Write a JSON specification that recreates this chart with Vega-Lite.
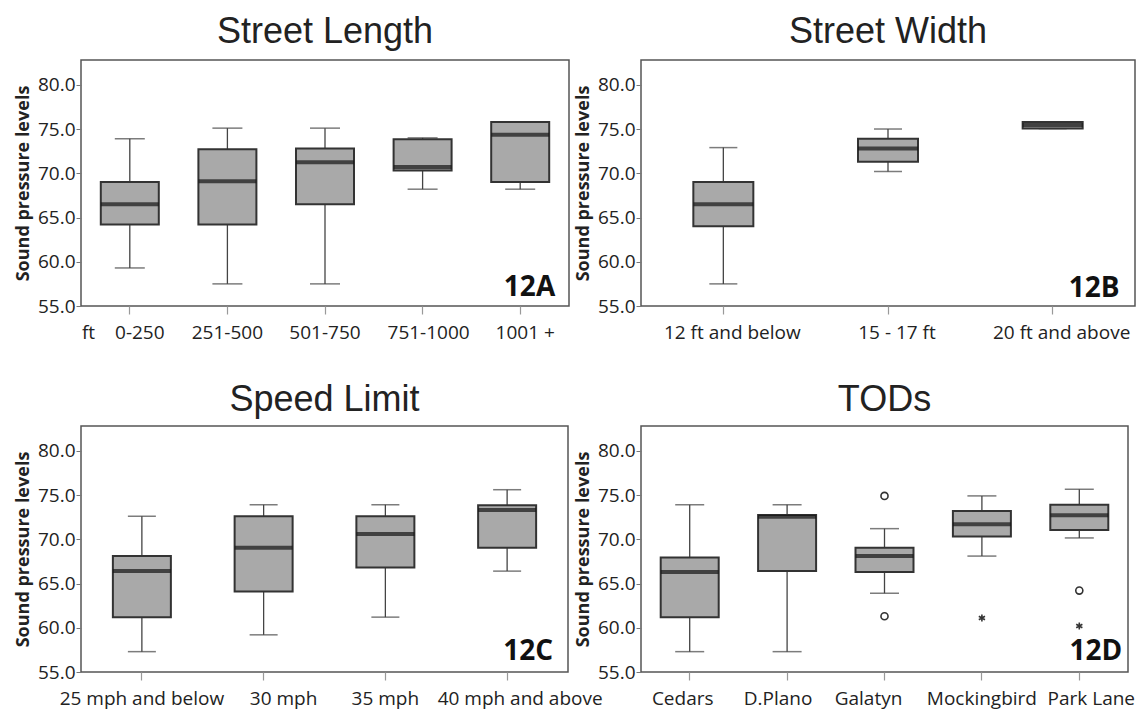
{
  "$schema": "https://vega.github.io/schema/vega-lite/v6.json",
  "autosize": {"type": "pad"},
  "padding": {"left": 13, "top": 13, "right": 0, "bottom": 2},
  "background": "white",
  "config": {
    "font": "Open Sans",
    "view": {"stroke": "#555", "strokeWidth": 1.5},
    "axis": {"grid": false, "domain": false},
    "axisX": {"labelAngle": 0, "tickSize": 8, "labelPadding": 9, "labelFontSize": 19, "labelColor": "#222", "tickColor": "#999", "tickWidth": 1.2},
    "axisY": {"values": [55, 60, 65, 70, 75, 80], "format": ".1f", "tickSize": 5, "labelPadding": 1, "labelFontSize": 19, "labelColor": "#222", "tickColor": "#777", "titleFontSize": 18, "titleFontWeight": "bold", "titleColor": "#222", "titlePadding": 5},
    "title": {"font": "Liberation Sans", "fontSize": 36, "fontWeight": "normal", "color": "#222", "baseline": "alphabetic", "offset": 9, "frame": "group"}
  },
  "datasets": {
    "A": [
      {"cat": "0-250", "lo": 59.3, "q1": 64.2, "med": 66.5, "q3": 69.0, "hi": 73.9},
      {"cat": "251-500", "lo": 57.5, "q1": 64.2, "med": 69.1, "q3": 72.7, "hi": 75.1},
      {"cat": "501-750", "lo": 57.5, "q1": 66.5, "med": 71.25, "q3": 72.8, "hi": 75.1},
      {"cat": "751-1000", "lo": 68.2, "q1": 70.3, "med": 70.7, "q3": 73.85, "hi": 74.0},
      {"cat": "1001 +", "lo": 68.2, "q1": 69.0, "med": 74.35, "q3": 75.8, "hi": 75.8}
    ],
    "B": [
      {"cat": "12 ft and below", "lo": 57.5, "q1": 64.0, "med": 66.5, "q3": 69.0, "hi": 72.9},
      {"cat": "15 - 17 ft", "lo": 70.2, "q1": 71.3, "med": 72.8, "q3": 73.9, "hi": 75.0},
      {"cat": "20 ft and above", "lo": 75.05, "q1": 75.05, "med": 75.45, "q3": 75.8, "hi": 75.8}
    ],
    "C": [
      {"cat": "25 mph and below", "lo": 57.3, "q1": 61.2, "med": 66.4, "q3": 68.1, "hi": 72.6},
      {"cat": "30 mph", "lo": 59.2, "q1": 64.1, "med": 69.05, "q3": 72.6, "hi": 73.9},
      {"cat": "35 mph", "lo": 61.2, "q1": 66.8, "med": 70.6, "q3": 72.6, "hi": 73.9},
      {"cat": "40 mph and above", "lo": 66.4, "q1": 69.05, "med": 73.3, "q3": 73.85, "hi": 75.6}
    ],
    "D": [
      {"cat": "Cedars", "lo": 57.3, "q1": 61.2, "med": 66.3, "q3": 67.95, "hi": 73.9},
      {"cat": "D.Plano", "lo": 57.3, "q1": 66.4, "med": 72.55, "q3": 72.75, "hi": 73.9},
      {"cat": "Galatyn", "lo": 63.9, "q1": 66.3, "med": 68.1, "q3": 69.05, "hi": 71.2},
      {"cat": "Mockingbird", "lo": 68.1, "q1": 70.3, "med": 71.7, "q3": 73.2, "hi": 74.9},
      {"cat": "Park Lane", "lo": 70.15, "q1": 71.05, "med": 72.7, "q3": 73.9, "hi": 75.65}
    ],
    "Dout": [
      {"cat": "Galatyn", "v": 74.9, "kind": "outlier"},
      {"cat": "Galatyn", "v": 61.3, "kind": "outlier"},
      {"cat": "Mockingbird", "v": 61.1, "kind": "extreme"},
      {"cat": "Park Lane", "v": 64.2, "kind": "outlier"},
      {"cat": "Park Lane", "v": 60.2, "kind": "extreme"}
    ]
  },
  "concat": [
    {
      "width": 488, "height": 246,
      "title": {"text": "Street Length"},
      "data": {"name": "A"},
      "layer": [
        {"mark": {"type": "rule", "color": "#444", "strokeWidth": 1.3},
         "encoding": {
           "x": {"field": "cat", "type": "nominal", "sort": null, "scale": {"type": "band", "paddingInner": 0, "paddingOuter": 0},
             "axis": {"title": "ft", "titleX": 7, "titleY": 32, "titleAlign": "center", "titleBaseline": "alphabetic", "titleFontSize": 19, "titleFontWeight": "normal", "titleColor": "#222",
               "labelOffset": {"condition": [{"test": "datum.value == '0-250'", "value": 10}, {"test": "datum.value == '751-1000'", "value": 6}, {"test": "datum.value == '1001 +'", "value": 5}], "value": 0}}},
           "y": {"field": "lo", "type": "quantitative", "title": "Sound pressure levels", "scale": {"domain": [55, 82.8], "nice": false, "zero": false}},
           "y2": {"field": "hi"}}},
        {"mark": {"type": "tick", "color": "#444", "size": 30, "thickness": 1.5},
         "encoding": {"x": {"field": "cat", "type": "nominal", "sort": null}, "y": {"field": "hi", "type": "quantitative", "title": "Sound pressure levels"}}},
        {"mark": {"type": "tick", "color": "#444", "size": 30, "thickness": 1.5},
         "encoding": {"x": {"field": "cat", "type": "nominal", "sort": null}, "y": {"field": "lo", "type": "quantitative", "title": "Sound pressure levels"}}},
        {"mark": {"type": "bar", "width": 58, "fill": "#a9a9a9", "stroke": "#333", "strokeWidth": 2},
         "encoding": {"x": {"field": "cat", "type": "nominal", "sort": null}, "y": {"field": "q1", "type": "quantitative", "title": "Sound pressure levels"}, "y2": {"field": "q3"}}},
        {"mark": {"type": "tick", "color": "#151515", "size": 58, "thickness": 4},
         "encoding": {"x": {"field": "cat", "type": "nominal", "sort": null}, "y": {"field": "med", "type": "quantitative", "title": "Sound pressure levels"}}},
        {"data": {"values": [{"tag": "12A"}]},
         "mark": {"type": "text", "fontSize": 28, "fontWeight": "bold", "color": "#111", "align": "right", "baseline": "alphabetic", "dx": 35, "dy": -10},
         "encoding": {"x": {"datum": "1001 +", "type": "nominal"}, "y": {"datum": 55, "type": "quantitative"}, "text": {"field": "tag"}}}
      ]
    },
    {
      "width": 494, "height": 246,
      "title": {"text": "Street Width"},
      "data": {"name": "B"},
      "layer": [
        {"mark": {"type": "rule", "color": "#444", "strokeWidth": 1.3},
         "encoding": {
           "x": {"field": "cat", "type": "nominal", "sort": null, "title": null, "scale": {"type": "band", "paddingInner": 0, "paddingOuter": 0},
             "axis": {"labelOffset": 9}},
           "y": {"field": "lo", "type": "quantitative", "title": "Sound pressure levels", "scale": {"domain": [55, 82.8], "nice": false, "zero": false}},
           "y2": {"field": "hi"}}},
        {"mark": {"type": "tick", "color": "#444", "size": 28, "thickness": 1.5},
         "encoding": {"x": {"field": "cat", "type": "nominal", "sort": null, "title": null}, "y": {"field": "hi", "type": "quantitative", "title": "Sound pressure levels"}}},
        {"mark": {"type": "tick", "color": "#444", "size": 28, "thickness": 1.5},
         "encoding": {"x": {"field": "cat", "type": "nominal", "sort": null, "title": null}, "y": {"field": "lo", "type": "quantitative", "title": "Sound pressure levels"}}},
        {"mark": {"type": "bar", "width": 60, "fill": "#a9a9a9", "stroke": "#333", "strokeWidth": 2},
         "encoding": {"x": {"field": "cat", "type": "nominal", "sort": null, "title": null}, "y": {"field": "q1", "type": "quantitative", "title": "Sound pressure levels"}, "y2": {"field": "q3"}}},
        {"mark": {"type": "tick", "color": "#151515", "size": 60, "thickness": 4},
         "encoding": {"x": {"field": "cat", "type": "nominal", "sort": null, "title": null}, "y": {"field": "med", "type": "quantitative", "title": "Sound pressure levels"}}},
        {"data": {"values": [{"tag": "12B"}]},
         "mark": {"type": "text", "fontSize": 28, "fontWeight": "bold", "color": "#111", "align": "right", "baseline": "alphabetic", "dx": 67, "dy": -9},
         "encoding": {"x": {"datum": "20 ft and above", "type": "nominal"}, "y": {"datum": 55, "type": "quantitative"}, "text": {"field": "tag"}}}
      ]
    },
    {
      "width": 487, "height": 246,
      "title": {"text": "Speed Limit", "offset": 7},
      "data": {"name": "C"},
      "layer": [
        {"mark": {"type": "rule", "color": "#444", "strokeWidth": 1.3},
         "encoding": {
           "x": {"field": "cat", "type": "nominal", "sort": null, "title": null, "scale": {"type": "band", "paddingInner": 0, "paddingOuter": 0},
             "axis": {"labelPadding": 9, "labelOffset": {"condition": [{"test": "datum.value == '30 mph'", "value": 20}, {"test": "datum.value == '40 mph and above'", "value": 13}], "value": 0}}},
           "y": {"field": "lo", "type": "quantitative", "title": "Sound pressure levels", "scale": {"domain": [55, 82.8], "nice": false, "zero": false}},
           "y2": {"field": "hi"}}},
        {"mark": {"type": "tick", "color": "#444", "size": 28, "thickness": 1.5},
         "encoding": {"x": {"field": "cat", "type": "nominal", "sort": null, "title": null}, "y": {"field": "hi", "type": "quantitative", "title": "Sound pressure levels"}}},
        {"mark": {"type": "tick", "color": "#444", "size": 28, "thickness": 1.5},
         "encoding": {"x": {"field": "cat", "type": "nominal", "sort": null, "title": null}, "y": {"field": "lo", "type": "quantitative", "title": "Sound pressure levels"}}},
        {"mark": {"type": "bar", "width": 58, "fill": "#a9a9a9", "stroke": "#333", "strokeWidth": 2},
         "encoding": {"x": {"field": "cat", "type": "nominal", "sort": null, "title": null}, "y": {"field": "q1", "type": "quantitative", "title": "Sound pressure levels"}, "y2": {"field": "q3"}}},
        {"mark": {"type": "tick", "color": "#151515", "size": 58, "thickness": 4},
         "encoding": {"x": {"field": "cat", "type": "nominal", "sort": null, "title": null}, "y": {"field": "med", "type": "quantitative", "title": "Sound pressure levels"}}},
        {"data": {"values": [{"tag": "12C"}]},
         "mark": {"type": "text", "fontSize": 28, "fontWeight": "bold", "color": "#111", "align": "right", "baseline": "alphabetic", "dx": 46, "dy": -12},
         "encoding": {"x": {"datum": "40 mph and above", "type": "nominal"}, "y": {"datum": 55, "type": "quantitative"}, "text": {"field": "tag"}}}
      ]
    },
    {
      "width": 487, "height": 246,
      "title": {"text": "TODs", "offset": 7},
      "data": {"name": "D"},
      "layer": [
        {"mark": {"type": "rule", "color": "#444", "strokeWidth": 1.3},
         "encoding": {
           "x": {"field": "cat", "type": "nominal", "sort": null, "title": null, "scale": {"type": "band", "paddingInner": 0, "paddingOuter": 0},
             "axis": {"labelPadding": 9, "labelOffset": {"condition": [{"test": "datum.value == 'Cedars'", "value": -7}, {"test": "datum.value == 'D.Plano'", "value": -9}, {"test": "datum.value == 'Galatyn'", "value": -16}, {"test": "datum.value == 'Park Lane'", "value": 12}], "value": 0}}},
           "y": {"field": "lo", "type": "quantitative", "title": "Sound pressure levels", "scale": {"domain": [55, 82.8], "nice": false, "zero": false}},
           "y2": {"field": "hi"}}},
        {"mark": {"type": "tick", "color": "#444", "size": 29, "thickness": 1.5},
         "encoding": {"x": {"field": "cat", "type": "nominal", "sort": null, "title": null}, "y": {"field": "hi", "type": "quantitative", "title": "Sound pressure levels"}}},
        {"mark": {"type": "tick", "color": "#444", "size": 29, "thickness": 1.5},
         "encoding": {"x": {"field": "cat", "type": "nominal", "sort": null, "title": null}, "y": {"field": "lo", "type": "quantitative", "title": "Sound pressure levels"}}},
        {"mark": {"type": "bar", "width": 58, "fill": "#a9a9a9", "stroke": "#333", "strokeWidth": 2},
         "encoding": {"x": {"field": "cat", "type": "nominal", "sort": null, "title": null}, "y": {"field": "q1", "type": "quantitative", "title": "Sound pressure levels"}, "y2": {"field": "q3"}}},
        {"mark": {"type": "tick", "color": "#151515", "size": 58, "thickness": 4},
         "encoding": {"x": {"field": "cat", "type": "nominal", "sort": null, "title": null}, "y": {"field": "med", "type": "quantitative", "title": "Sound pressure levels"}}},
        {"data": {"name": "Dout"},
         "mark": {"type": "point", "filled": false, "stroke": "#333", "strokeWidth": 1.6, "size": 50, "opacity": 1},
         "encoding": {"x": {"field": "cat", "type": "nominal", "sort": null, "title": null}, "y": {"field": "v", "type": "quantitative", "title": "Sound pressure levels"},
           "shape": {"field": "kind", "type": "nominal", "legend": null, "scale": {"domain": ["outlier", "extreme"], "range": ["circle", "M0,-1L0,1M-0.87,-0.5L0.87,0.5M-0.87,0.5L0.87,-0.5"]}}}},
        {"data": {"values": [{"tag": "12D"}]},
         "mark": {"type": "text", "fontSize": 28, "fontWeight": "bold", "color": "#111", "align": "right", "baseline": "alphabetic", "dx": 43, "dy": -12},
         "encoding": {"x": {"datum": "Park Lane", "type": "nominal"}, "y": {"datum": 55, "type": "quantitative"}, "text": {"field": "tag"}}}
      ]
    }
  ],
  "columns": 2,
  "spacing": {"row": 120, "column": 72},
  "bounds": "flush",
  "align": "none",
  "resolve": {"scale": {"x": "independent", "y": "independent", "shape": "independent"}}
}
